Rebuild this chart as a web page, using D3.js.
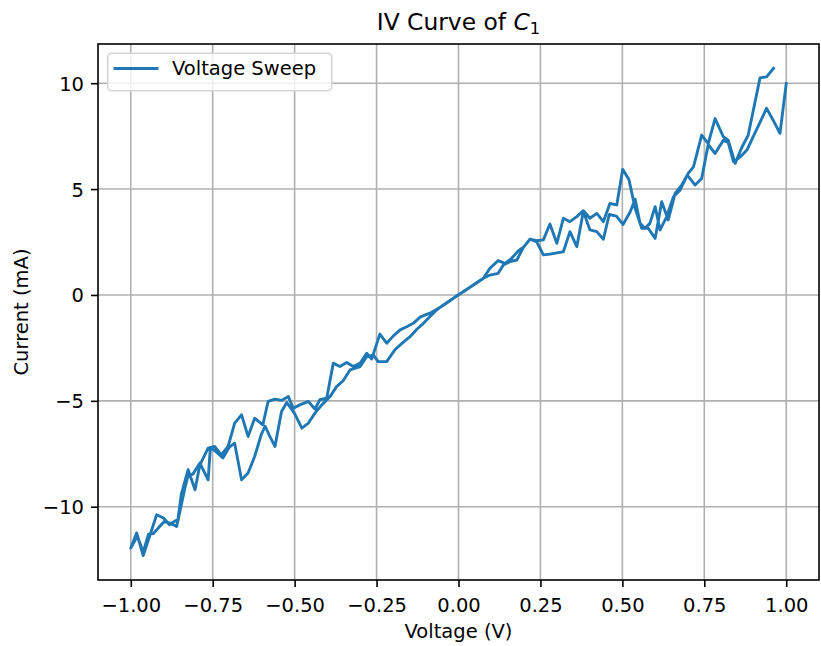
<!DOCTYPE html>
<html>
<head>
<meta charset="utf-8">
<script src="https://cdn.jsdelivr.net/npm/d3@7"></script>
<style>
  body { margin: 0; background: #ffffff; }
  svg { display: block; }
  text { font-family: "DejaVu Sans", sans-serif; fill: #000; }
</style>
</head>
<body>
<svg id="chart" width="821" height="646"></svg>
<script>
// Sweep from +1 V down to -1 V (volts, milliamps)
const voltageDown = [
  1.000, 0.981, 0.962, 0.940, 0.920, 0.900, 0.880, 0.862, 0.850, 0.839,
  0.823, 0.808, 0.783, 0.762, 0.742, 0.722, 0.698, 0.676, 0.656, 0.635,
  0.615, 0.600, 0.584, 0.569, 0.554, 0.539, 0.523, 0.502, 0.482, 0.460,
  0.442, 0.422, 0.401, 0.381, 0.361, 0.340, 0.320, 0.305, 0.279, 0.259,
  0.239, 0.218, 0.198, 0.178, 0.157, 0.137, 0.121, 0.096, 0.076, 0.055,
  0.035, 0.015, -0.005, -0.025, -0.045, -0.066, -0.087, -0.107, -0.117, -0.138,
  -0.158, -0.178, -0.198, -0.219, -0.240, -0.265, -0.280, -0.300, -0.321, -0.341,
  -0.362, -0.382, -0.402, -0.423, -0.438, -0.458, -0.484, -0.504, -0.519, -0.540,
  -0.560, -0.581, -0.597, -0.622, -0.642, -0.662, -0.683, -0.703, -0.724, -0.744,
  -0.764, -0.789, -0.804, -0.825, -0.846, -0.856, -0.866, -0.882, -0.900, -0.921,
  -0.941, -0.962, -0.982, -1.000
];
const currentDown = [
  9.98, 7.63, 8.20, 8.81, 8.15, 7.50, 6.84, 6.55, 6.40, 6.30,
  7.20, 7.31, 6.68, 7.10, 5.50, 5.19, 5.66, 4.95, 4.64, 3.69,
  3.07, 4.17, 3.38, 3.15, 3.38, 4.52, 3.89, 3.33, 3.72, 3.80,
  2.63, 2.99, 3.07, 3.95, 2.28, 2.99, 2.04, 2.00, 1.93, 1.89,
  2.50, 2.63, 2.25, 1.65, 1.57, 1.42, 1.02, 0.94, 0.79, 0.56,
  0.36, 0.15, -0.04, -0.26, -0.48, -0.68, -0.86, -0.98, -1.05, -1.34,
  -1.50, -1.65, -1.92, -2.28, -1.85, -3.03, -2.75, -3.22, -3.38, -3.19,
  -3.38, -3.22, -4.87, -4.95, -5.39, -5.03, -5.19, -5.35, -4.80, -4.98,
  -4.92, -5.03, -6.13, -5.82, -6.68, -5.66, -6.05, -7.15, -7.55, -7.15,
  -7.23, -8.02, -9.20, -8.25, -9.43, -10.60, -10.69, -10.85, -10.53, -10.38,
  -11.32, -12.31, -11.24, -11.95
];

// Return sweep from -1 V back up towards +1 V
const voltageUp = [
  -0.980, -0.962, -0.946, -0.931, -0.910, -0.897, -0.876, -0.860, -0.850, -0.835,
  -0.826, -0.810, -0.789, -0.764, -0.757, -0.740, -0.719, -0.700, -0.683, -0.662,
  -0.642, -0.622, -0.602, -0.590, -0.575, -0.560, -0.540, -0.524, -0.500, -0.478,
  -0.458, -0.438, -0.417, -0.392, -0.372, -0.352, -0.331, -0.300, -0.280, -0.260,
  -0.245, -0.219, -0.194, -0.170, -0.148, -0.127, -0.107, -0.087, -0.067, -0.045,
  -0.025, -0.005, 0.015, 0.035, 0.055, 0.076, 0.096, 0.121, 0.142, 0.162,
  0.183, 0.198, 0.218, 0.239, 0.259, 0.279, 0.300, 0.320, 0.340, 0.361,
  0.381, 0.401, 0.422, 0.442, 0.462, 0.483, 0.501, 0.520, 0.539, 0.559,
  0.579, 0.600, 0.620, 0.640, 0.661, 0.681, 0.701, 0.717, 0.742, 0.762,
  0.783, 0.808, 0.823, 0.844, 0.864, 0.884, 0.902, 0.920, 0.940, 0.961
];
const currentUp = [
  -11.38, -12.15, -11.30, -11.27, -10.90, -10.69, -10.80, -10.93, -10.22, -9.12,
  -8.57, -8.45, -7.94, -8.73, -7.20, -7.40, -7.70, -7.20, -7.00, -8.73,
  -8.41, -7.63, -6.60, -6.20, -6.70, -7.15, -5.50, -5.08, -5.60, -6.29,
  -6.05, -5.58, -5.19, -4.80, -4.33, -4.05, -3.54, -3.38, -2.91, -2.83,
  -3.15, -3.15, -2.59, -2.25, -1.97, -1.62, -1.34, -1.02, -0.71, -0.46,
  -0.25, -0.05, 0.16, 0.37, 0.58, 0.79, 1.26, 1.62, 1.49, 1.73,
  2.09, 2.25, 2.63, 2.56, 2.60, 3.35, 2.44, 3.62, 3.46, 3.70,
  3.98, 3.62, 3.85, 3.46, 4.32, 4.25, 5.93, 5.45, 4.09, 3.15,
  3.15, 2.67, 4.40, 3.54, 4.80, 5.19, 5.74, 6.05, 7.55, 7.15,
  8.33, 7.47, 7.31, 6.21, 6.95, 7.55, 8.90, 10.25, 10.30, 10.70
];

const xTicks = [-1.0, -0.75, -0.5, -0.25, 0.0, 0.25, 0.5, 0.75, 1.0];
const yTicks = [-10, -5, 0, 5, 10];
const seriesName = "Voltage Sweep";

const svg = d3.select("#chart");
const plot = { left: 98, top: 44, right: 819, bottom: 580 };
const fs = 19.5;        // 10pt text
const titleFs = 23.4;   // 12pt title
const blue = "#1f77b4";

const voltage = voltageDown.concat(voltageUp);
const current = currentDown.concat(currentUp);
const points = voltage.map((v, i) => [v, current[i]]);

// 5% padding around the data extent on both axes
function padded(ext) {
  const m = (ext[1] - ext[0]) * 0.05;
  return [ext[0] - m, ext[1] + m];
}

const x = d3.scaleLinear().domain(padded(d3.extent(voltage))).range([plot.left, plot.right]);
const y = d3.scaleLinear().domain(padded(d3.extent(current))).range([plot.bottom, plot.top]);

// grid
const grid = svg.append("g").attr("stroke", "#b0b0b0").attr("stroke-width", 1.6);
grid.selectAll("line.gx").data(xTicks).join("line")
  .attr("x1", d => x(d)).attr("x2", d => x(d))
  .attr("y1", plot.top).attr("y2", plot.bottom);
grid.selectAll("line.gy").data(yTicks).join("line")
  .attr("x1", plot.left).attr("x2", plot.right)
  .attr("y1", d => y(d)).attr("y2", d => y(d));

// IV trace
const line = d3.line().x(d => x(d[0])).y(d => y(d[1]));
svg.append("path")
  .datum(points)
  .attr("d", line)
  .attr("fill", "none")
  .attr("stroke", blue)
  .attr("stroke-width", 2.9)
  .attr("stroke-linejoin", "round")
  .attr("stroke-linecap", "square");

// axes
const xAxis = svg.append("g")
  .attr("transform", `translate(0,${plot.bottom})`)
  .call(d3.axisBottom(x).tickValues(xTicks).tickFormat(d3.format(".2f")).tickSizeOuter(0).tickSize(7).tickPadding(7));
const yAxis = svg.append("g")
  .attr("transform", `translate(${plot.left},0)`)
  .call(d3.axisLeft(y).tickValues(yTicks).tickFormat(d3.format("d")).tickSizeOuter(0).tickSize(7).tickPadding(7));

[xAxis, yAxis].forEach(g => {
  g.select(".domain").remove();
  g.attr("font-family", null).attr("font-size", null);
  g.selectAll(".tick line").attr("stroke", "#000").attr("stroke-width", 1.6);
  g.selectAll(".tick text").attr("font-size", fs).attr("fill", "#000");
});
xAxis.selectAll(".tick text").attr("dy", null).attr("y", 31.5);
yAxis.selectAll(".tick text").attr("dy", "0.36em");

// frame
svg.append("rect")
  .attr("x", plot.left).attr("y", plot.top)
  .attr("width", plot.right - plot.left).attr("height", plot.bottom - plot.top)
  .attr("fill", "none").attr("stroke", "#000").attr("stroke-width", 1.6);

// labels
svg.append("text")
  .attr("x", (plot.left + plot.right) / 2).attr("y", 637.5)
  .attr("text-anchor", "middle").attr("font-size", fs)
  .text("Voltage (V)");

svg.append("text")
  .attr("transform", `translate(28,${(plot.top + plot.bottom) / 2}) rotate(-90)`)
  .attr("text-anchor", "middle").attr("font-size", fs)
  .text("Current (mA)");

const title = svg.append("text")
  .attr("x", (plot.left + plot.right) / 2).attr("y", 29.5)
  .attr("text-anchor", "middle").attr("font-size", titleFs);
title.append("tspan").text("IV Curve of ");
title.append("tspan").attr("font-style", "italic").text("C");
title.append("tspan").attr("font-size", titleFs * 0.7).attr("dy", titleFs * 0.2).text("1");

// legend
const legend = svg.append("g");
legend.append("rect")
  .attr("x", 107.7).attr("y", 53.3).attr("width", 224).attr("height", 37.4)
  .attr("rx", 4).attr("ry", 4)
  .attr("fill", "#ffffff").attr("fill-opacity", 0.8)
  .attr("stroke", "#d4d4d4").attr("stroke-width", 1.6);
legend.append("line")
  .attr("x1", 115).attr("x2", 157).attr("y1", 68.5).attr("y2", 68.5)
  .attr("stroke", blue).attr("stroke-width", 2.9).attr("stroke-linecap", "square");
legend.append("text")
  .attr("x", 172).attr("y", 75).attr("font-size", fs)
  .text(seriesName);
</script>
</body>
</html>
